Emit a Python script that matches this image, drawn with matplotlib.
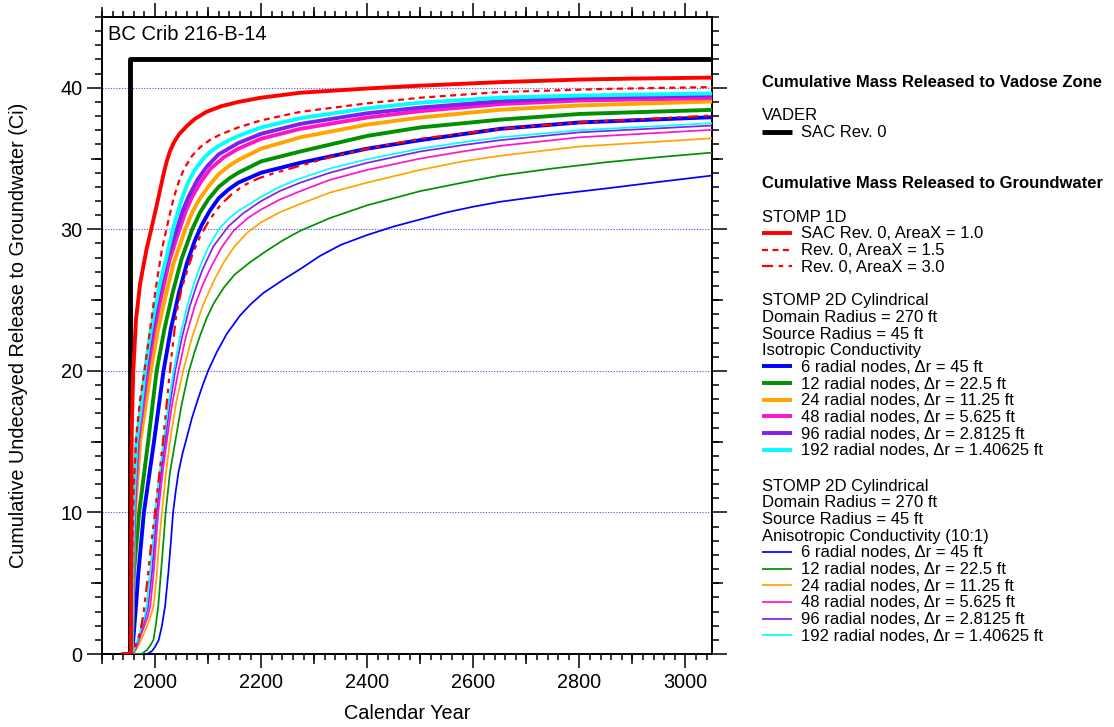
import numpy as np
import matplotlib
matplotlib.use("Agg")
import matplotlib.pyplot as plt
import matplotlib.transforms as mtransforms
from matplotlib.lines import Line2D, TICKDOWN, TICKUP, TICKLEFT, TICKRIGHT
from matplotlib.ticker import MultipleLocator

plt.rcParams['font.family'] = ['Liberation Sans', 'DejaVu Sans']

# ---------------- data ----------------
vader_year = [1953, 1953, 3050]
vader_ci = [0, 42, 42]

# STOMP 1D
s1d_a10_year = [1940, 1954.5, 1955.2, 1955.6, 1956.2, 1957.5, 1959, 1964, 1972, 1984, 1994, 2002, 2009,
                2016, 2022, 2028, 2035, 2045, 2060, 2075, 2097, 2125, 2157, 2200, 2274, 2400, 2500,
                2651, 2800, 2900, 3050]
s1d_a10_ci = [0, 0, 8, 14, 16, 18, 20, 23.6, 26.2, 28.6, 30.2, 31.5, 32.7, 33.9, 34.8, 35.5, 36.1,
              36.7, 37.3, 37.8, 38.3, 38.7, 39.0, 39.3, 39.65, 39.95, 40.15, 40.4, 40.58, 40.65, 40.72]
s1d_a15_year = [1940, 1955.3, 1956, 1957.5, 1960, 1965, 1972, 1980, 1991, 2000, 2013, 2025, 2035, 2045,
                2055, 2070, 2085, 2103, 2123, 2157, 2200, 2274, 2400, 2500, 2651, 2850, 3050]
s1d_a15_ci = [0, 0, 3, 8, 12, 15.5, 18, 20, 23, 25.5, 28.6, 30.6, 32.2, 33.4, 34.3, 35.2, 35.8, 36.3,
              36.7, 37.2, 37.7, 38.3, 38.9, 39.3, 39.7, 39.92, 40.05]
s1d_a30_year = [1940, 1958, 1965, 1972, 1978, 1985, 1992, 2000, 2015, 2028, 2040, 2050, 2060, 2072,
                2085, 2103, 2123, 2145, 2167, 2195, 2223, 2274, 2330, 2400, 2500, 2651, 2800, 3050]
s1d_a30_ci = [0, 0, 0.8, 1.5, 2.8, 5, 7.5, 10, 15, 20, 24, 25.8, 27, 28.4, 29.5, 30.7, 31.7, 32.5,
              33.1, 33.6, 33.95, 34.5, 35.1, 35.7, 36.4, 37.1, 37.55, 38.04]

# STOMP 2D cylindrical, isotropic
iso6_year = [1940, 1956.5, 1960, 1964, 1968.5, 1979, 1998, 2016, 2030, 2045, 2060, 2075, 2088, 2103,
             2120, 2138, 2157, 2200, 2274, 2400, 2500, 2651, 2800, 3050]
iso6_ci = [0, 0, 1.5, 3.35, 5.7, 10, 15, 20, 23, 25.5, 27.6, 29.2, 30.3, 31.3, 32.2, 32.8, 33.3, 34.0,
           34.7, 35.7, 36.3, 37.1, 37.55, 37.92]
iso12_year = [1940, 1956, 1957.5, 1960, 1970, 1987, 2003, 2018, 2033, 2050, 2070, 2085, 2100, 2120,
              2140, 2157, 2200, 2274, 2400, 2500, 2651, 2800, 3050]
iso12_ci = [0, 0, 2, 5.7, 10, 15, 20, 23, 25.5, 27.9, 30, 31.2, 32.1, 33.0, 33.6, 34.0, 34.8, 35.5,
            36.6, 37.2, 37.75, 38.15, 38.44]
iso24_year = [1940, 1955.5, 1957, 1959, 1962, 1972, 1992, 2005, 2018, 2035, 2057, 2070, 2085, 2100,
              2120, 2140, 2157, 2200, 2274, 2400, 2500, 2651, 2800, 3050]
iso24_ci = [0, 0, 2, 6, 10, 15, 20, 22.8, 25, 27.6, 30, 31.2, 32.2, 33.0, 33.9, 34.5, 34.9, 35.7,
            36.5, 37.4, 37.9, 38.45, 38.75, 39.03]
iso48_year = [1940, 1955.5, 1957, 1958.5, 1961, 1968, 1986, 1998, 2010, 2027, 2046, 2058, 2070, 2087,
              2105, 2130, 2157, 2200, 2274, 2400, 2500, 2651, 2800, 3050]
iso48_ci = [0, 0, 2.5, 6.5, 10, 15, 20, 22.8, 25, 27.8, 30, 31.3, 32.3, 33.4, 34.3, 35.1, 35.7, 36.4,
            37.1, 37.9, 38.35, 38.85, 39.1, 39.27]
iso96_year = [1940, 1955.5, 1956.5, 1958, 1960, 1966, 1974, 1983, 1994, 2005, 2022, 2041, 2052, 2063,
              2080, 2097, 2120, 2157, 2200, 2274, 2400, 2500, 2651, 2800, 3050]
iso96_ci = [0, 0, 2.5, 7, 10.5, 15, 17.4, 20, 22.6, 25, 27.8, 30, 31.3, 32.3, 33.5, 34.4, 35.3, 36.1,
            36.75, 37.45, 38.2, 38.6, 39.05, 39.3, 39.46]
iso192_year = [1940, 1955.5, 1956.5, 1958, 1960, 1965, 1972, 1981, 1991, 1999, 2010, 2022, 2035, 2050,
               2062, 2075, 2091, 2105, 2120, 2140, 2157, 2200, 2274, 2400, 2500, 2651, 2800, 3050]
iso192_ci = [0, 0, 3, 8, 11, 15, 17, 20, 22.6, 24.3, 26.3, 28.1, 30.2, 32.1, 33.3, 34.2, 35.0, 35.5,
             35.9, 36.3, 36.6, 37.2, 37.85, 38.55, 38.95, 39.3, 39.45, 39.6]

# STOMP 2D cylindrical, anisotropic (10:1)
an6_year = [1940, 1985, 1994, 2000, 2007, 2013, 2019, 2025, 2030, 2034, 2039, 2044, 2052, 2060, 2069,
            2080, 2090, 2100, 2116, 2135, 2160, 2180, 2204, 2240, 2274, 2310, 2350, 2400, 2450, 2500,
            2550, 2600, 2651, 2750, 2853, 2950, 3050]
an6_ci = [0, 0, 0.2, 0.5, 1, 2, 3.4, 5.7, 8, 10, 11.5, 12.8, 14.2, 15.3, 16.6, 17.9, 19.0, 20, 21.3,
          22.6, 23.9, 24.7, 25.5, 26.4, 27.2, 28.1, 28.9, 29.6, 30.2, 30.7, 31.2, 31.6, 31.95, 32.45,
          32.9, 33.35, 33.8]
an12_year = [1940, 1975, 1985, 1991, 1997, 2002, 2006, 2011, 2016, 2020, 2028, 2038, 2050, 2064, 2075,
             2085, 2097, 2111, 2130, 2150, 2180, 2211, 2240, 2274, 2330, 2400, 2500, 2580, 2651, 2750,
             2853, 2950, 3050]
an12_ci = [0, 0, 0.3, 0.6, 1, 2.2, 3.35, 5.7, 8, 10, 12.8, 15, 17.6, 20, 21.4, 22.5, 23.7, 24.8, 25.9,
           26.8, 27.7, 28.5, 29.2, 29.9, 30.8, 31.7, 32.7, 33.3, 33.8, 34.3, 34.75, 35.1, 35.42]
an24_year = [1940, 1959, 1966, 1974, 1985, 1991, 1997, 2003, 2008, 2013, 2020, 2028, 2040, 2053, 2070,
             2090, 2110, 2130, 2150, 2175, 2200, 2235, 2274, 2330, 2400, 2500, 2580, 2651, 2800, 3050]
an24_ci = [0, 0, 0.4, 1, 2, 2.6, 3.35, 5.5, 8, 10, 12.6, 15, 17.8, 20, 22.4, 24.6, 26.3, 27.7, 28.8,
           29.8, 30.5, 31.2, 31.8, 32.6, 33.3, 34.2, 34.8, 35.2, 35.85, 36.43]
an48_year = [1940, 1958, 1964, 1970, 1980, 1986, 1991, 1997, 2002, 2006, 2014, 2022, 2032, 2044, 2058,
             2075, 2090, 2105, 2125, 2148, 2175, 2200, 2235, 2274, 2330, 2400, 2500, 2580, 2651, 2800,
             3050]
an48_ci = [0, 0, 0.4, 1, 2, 2.6, 3.35, 5.6, 8, 10, 12.7, 15, 17.6, 20, 22.4, 24.6, 26.1, 27.3, 28.7,
           29.9, 30.8, 31.4, 32.1, 32.7, 33.5, 34.2, 35.0, 35.5, 35.9, 36.5, 37.03]
an96_year = [1940, 1957, 1963, 1968, 1977, 1982, 1987, 1994, 1999, 2003, 2011, 2019, 2028, 2038, 2051,
             2065, 2078, 2090, 2110, 2138, 2165, 2200, 2235, 2274, 2330, 2400, 2500, 2580, 2651, 2800,
             3050]
an96_ci = [0, 0, 0.4, 1, 2, 2.6, 3.35, 5.7, 8, 10, 12.7, 15, 17.6, 20, 22.4, 24.5, 26.0, 27.2, 28.8,
           30.2, 31.1, 32.0, 32.7, 33.3, 34.0, 34.7, 35.5, 35.95, 36.3, 36.85, 37.33]
an192_year = [1940, 1957, 1962, 1967, 1975, 1980, 1984, 1991, 1996, 2000, 2008, 2016, 2025, 2035, 2047,
              2060, 2072, 2085, 2100, 2120, 2140, 2157, 2200, 2235, 2274, 2330, 2400, 2500, 2580, 2651,
              2800, 3050]
an192_ci = [0, 0, 0.4, 1, 2, 2.6, 3.35, 6, 8, 10, 12.6, 15, 17.6, 20, 22.4, 24.5, 26.0, 27.4, 28.7,
            30.0, 30.8, 31.3, 32.3, 33.0, 33.6, 34.3, 34.95, 35.7, 36.15, 36.5, 37.0, 37.5]

node_labels = ["6 radial nodes, \u0394r = 45 ft", "12 radial nodes, \u0394r = 22.5 ft",
               "24 radial nodes, \u0394r = 11.25 ft", "48 radial nodes, \u0394r = 5.625 ft",
               "96 radial nodes, \u0394r = 2.8125 ft", "192 radial nodes, \u0394r = 1.40625 ft"]
node_colors = ['#0000ff', '#009000', '#ffa500', '#ff14c8', '#8020f0', '#00ffff']

iso_series = [(iso6_year, iso6_ci), (iso12_year, iso12_ci), (iso24_year, iso24_ci),
              (iso48_year, iso48_ci), (iso96_year, iso96_ci), (iso192_year, iso192_ci)]
an_series = [(an6_year, an6_ci), (an12_year, an12_ci), (an24_year, an24_ci),
             (an48_year, an48_ci), (an96_year, an96_ci), (an192_year, an192_ci)]

# ---------------- figure ----------------
W, H = 1114, 727
fig = plt.figure(figsize=(W / 100, H / 100), dpi=100)
ax = fig.add_axes([102 / W, 1 - 654 / H, 610 / W, 637 / H])

DASH = (0, (2.7, 2.0))
DASHDOT = (0, (5, 2.5, 2, 2.5, 2, 2.5))
LW_THICK, LW_THIN, LW_BLACK = 2.8, 1.25, 3.5

ax.plot(vader_year, vader_ci, color='black', lw=LW_BLACK, zorder=3, solid_capstyle='butt')
for (yr, ci), c in zip(iso_series, node_colors):
    ax.plot(yr, ci, color=c, lw=LW_THICK, zorder=4, solid_joinstyle='round')
for (yr, ci), c in zip(an_series, node_colors):
    ax.plot(yr, ci, color=c, lw=LW_THIN, zorder=5, solid_joinstyle='round')
ax.plot(s1d_a15_year, s1d_a15_ci, color='#ff0000', lw=1.6, ls=DASH, zorder=6)
ax.plot(s1d_a30_year, s1d_a30_ci, color='#ff0000', lw=1.6, ls=DASHDOT, zorder=6)
ax.plot(s1d_a10_year, s1d_a10_ci, color='#ff0000', lw=LW_THICK, zorder=6, solid_joinstyle='round')

ax.set_xlim(1900, 3050)
ax.set_ylim(0, 45)
ax.xaxis.set_major_locator(MultipleLocator(200))
ax.xaxis.set_minor_locator(MultipleLocator(20))
ax.yaxis.set_major_locator(MultipleLocator(10))
ax.yaxis.set_minor_locator(MultipleLocator(1))
ax.tick_params(which='both', direction='out', top=True, right=True,
               labeltop=False, labelright=False, width=1.1, labelsize=14.3)
ax.xaxis.set_tick_params(which='major', length=10, pad=4)
ax.xaxis.set_tick_params(which='minor', length=4.5)
ax.yaxis.set_tick_params(which='major', length=11, pad=3)
ax.yaxis.set_tick_params(which='minor', length=5)
for s in ax.spines.values():
    s.set_linewidth(1.4)

# medium ticks at odd hundreds / fives
tb = mtransforms.blended_transform_factory(ax.transData, ax.transAxes)
tl = mtransforms.blended_transform_factory(ax.transAxes, ax.transData)
med_x = np.arange(1900, 3000, 200)
med_y = np.arange(5, 45, 10)
kw = dict(ls='none', color='black', ms=7, mew=1.1, clip_on=False, zorder=10)
ax.plot(med_x, np.zeros_like(med_x), marker=TICKDOWN, transform=tb, **kw)
ax.plot(med_x, np.ones_like(med_x), marker=TICKUP, transform=tb, **kw)
kw['ms'] = 8
ax.plot(np.zeros_like(med_y), med_y, marker=TICKLEFT, transform=tl, **kw)
ax.plot(np.ones_like(med_y), med_y, marker=TICKRIGHT, transform=tl, **kw)

ax.grid(True, axis='y', which='major', color='#4a4aff', lw=0.8, ls=(0, (1, 1.5)), zorder=1)

fig.text(108 / W, 1 - 39.5 / H, 'BC Crib 216-B-14', fontsize=14.5, va='baseline', ha='left')
fig.text(19 / W, 1 - 335.5 / H, 'Cumulative Undecayed Release to Groundwater (Ci)',
         fontsize=14.3, rotation=90, ha='center', va='center')
fig.text(407 / W, 1 - 719 / H, 'Calendar Year', fontsize=14.3, ha='center', va='baseline')

# ---------------- legend (manual) ----------------
FS = 12
X0, X1, XT = 762, 792, 801


def ftxt(x, y, s, bold=False):
    fig.text(x / W, 1 - y / H, s, fontsize=FS, ha='left', va='baseline',
             fontweight='bold' if bold else 'normal')


def fline(y, **kwargs):
    fig.add_artist(Line2D([X0 / W, X1 / W], [1 - (y - 5.5) / H] * 2, transform=fig.transFigure,
                          solid_capstyle='butt', **kwargs))


ftxt(X0, 86.7, 'Cumulative Mass Released to Vadose Zone', bold=True)
ftxt(X0, 120, 'VADER')
fline(137.3, color='black', lw=LW_BLACK)
ftxt(XT, 137.3, 'SAC Rev. 0')
ftxt(X0, 188.3, 'Cumulative Mass Released to Groundwater', bold=True)

step = 16.67
y = 221.7
ftxt(X0, y, 'STOMP 1D')
y += step
fline(y, color='#ff0000', lw=LW_THICK)
ftxt(XT, y, 'SAC Rev. 0, AreaX = 1.0')
y += step
fline(y, color='#ff0000', lw=1.6, ls=DASH)
ftxt(XT, y, 'Rev. 0, AreaX = 1.5')
y += step
fline(y, color='#ff0000', lw=1.6, ls=DASHDOT)
ftxt(XT, y, 'Rev. 0, AreaX = 3.0')

for y0, cond, lw in [(305.2, 'Isotropic Conductivity', LW_THICK),
                     (490.7, 'Anisotropic Conductivity (10:1)', LW_THIN)]:
    y = y0
    for hdr in ['STOMP 2D Cylindrical', 'Domain Radius = 270 ft', 'Source Radius = 45 ft', cond]:
        ftxt(X0, y, hdr)
        y += step
    for lab, c in zip(node_labels, node_colors):
        fline(y, color=c, lw=lw)
        ftxt(XT, y, lab)
        y += step

fig.savefig('out.png', dpi=100)
